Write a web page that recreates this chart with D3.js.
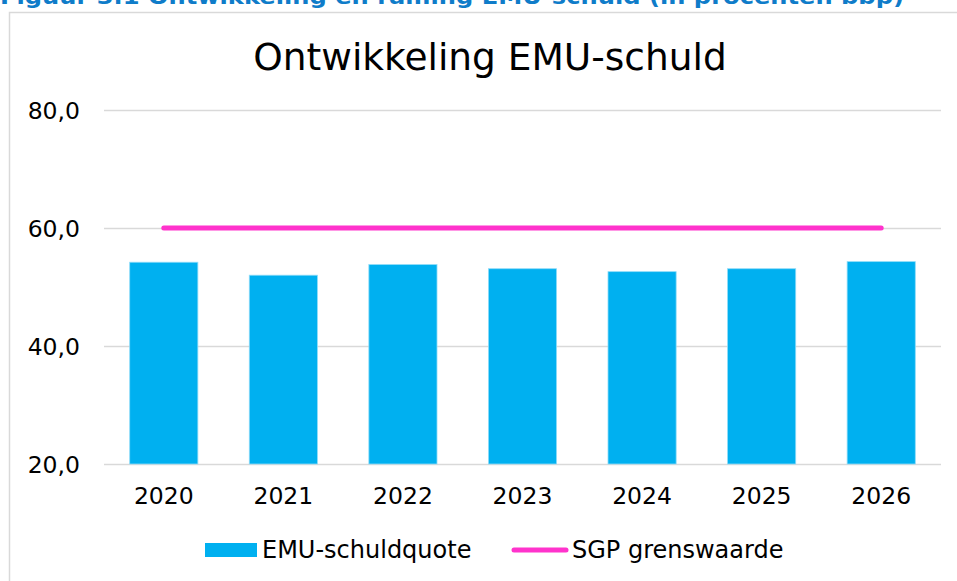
<!DOCTYPE html>
<html>
<head>
<meta charset="utf-8">
<script src="https://cdn.jsdelivr.net/npm/d3@7"></script>
<style>
    html, body { margin: 0; padding: 0; background: #fff; overflow: hidden; }
    #chart { width: 957px; height: 581px; }
    text { font-family: 'DejaVu Sans', Verdana, sans-serif; fill: #000; }
</style>
</head>
<body>
<div id="chart"></div>
<script>
const years = ['2020', '2021', '2022', '2023', '2024', '2025', '2026'];
const schuldquote = [54.2, 52.0, 53.8, 53.1, 52.6, 53.1, 54.3];
const grenswaarde = [60, 60, 60, 60, 60, 60, 60];
const yTicks = [20, 40, 60, 80];

const width = 957, height = 581;
const margin = { top: 110, right: 16, bottom: 117, left: 104 };
const innerW = width - margin.left - margin.right;
const innerH = height - margin.top - margin.bottom;

const svg = d3.select('#chart')
    .append('svg')
    .attr('width', width)
    .attr('height', height);

// outer frame (clipped by the picture)
svg.append('rect')
    .attr('x', 9.5)
    .attr('y', 12.5)
    .attr('width', 1000)
    .attr('height', 1000)
    .attr('fill', 'none')
    .attr('stroke', '#d9d9d9')
    .attr('stroke-width', 1.5);

// figure caption, cut off at the top as in the source
svg.append('text')
    .attr('x', 0)
    .attr('y', 4)
    .attr('textLength', 904)
    .attr('lengthAdjust', 'spacingAndGlyphs')
    .style('font-weight', 'bold')
    .style('font-size', '22px')
    .style('fill', '#0f7cc9')
    .text('Figuur 3.1 Ontwikkeling en raming EMU-schuld (in procenten bbp)');

svg.append('text')
    .attr('x', 490)
    .attr('y', 70)
    .attr('text-anchor', 'middle')
    .style('font-size', '37.5px')
    .text('Ontwikkeling EMU-schuld');

const g = svg.append('g')
    .attr('transform', `translate(${margin.left},${margin.top})`);

const x = d3.scaleBand()
    .domain(years)
    .range([0, innerW])
    .paddingInner(0.43)
    .paddingOuter(0.215);

const y = d3.scaleLinear()
    .domain([20, 80])
    .range([innerH, 0]);

g.append('g')
    .attr('class', 'grid')
    .call(d3.axisLeft(y)
        .tickValues(yTicks)
        .tickSize(-innerW)
        .tickFormat('')
    )
    .call(g => g.select('.domain').remove())
    .selectAll('line')
    .attr('stroke', '#d9d9d9')
    .attr('stroke-width', 1.5);

g.selectAll('.bar')
    .data(years)
    .enter()
    .append('rect')
    .attr('class', 'bar')
    .attr('x', d => x(d))
    .attr('y', (d, i) => y(schuldquote[i]))
    .attr('width', x.bandwidth())
    .attr('height', (d, i) => innerH - y(schuldquote[i]))
    .attr('fill', '#00b0f0')
    .attr('stroke', '#8fdcf8')
    .attr('stroke-width', 0.8);

const line = d3.line()
    .x((d, i) => x(years[i]) + x.bandwidth() / 2)
    .y(d => y(d));

g.append('path')
    .datum(grenswaarde)
    .attr('d', line)
    .attr('fill', 'none')
    .attr('stroke', '#ff33cc')
    .attr('stroke-width', 5)
    .attr('stroke-linecap', 'round');

const yAxis = g.append('g')
    .call(d3.axisLeft(y)
        .tickValues(yTicks)
        .tickSize(0)
        .tickPadding(24)
        .tickFormat(d => d3.format('.1f')(d).replace('.', ',')));
yAxis.select('.domain').remove();
yAxis.selectAll('text')
    .style('font-size', '23.5px')
    .attr('dy', '0.35em');

const xAxis = g.append('g')
    .attr('transform', `translate(0,${innerH})`)
    .call(d3.axisBottom(x).tickSize(0).tickPadding(23));
xAxis.select('.domain').remove();
xAxis.selectAll('text')
    .style('font-size', '23.5px');

// legend
const legend = svg.append('g').attr('transform', 'translate(0,550)');
legend.append('rect')
    .attr('x', 205)
    .attr('y', -7)
    .attr('width', 52)
    .attr('height', 14)
    .attr('fill', '#00b0f0');
legend.append('text')
    .attr('x', 262)
    .attr('y', 7.5)
    .style('font-size', '24px')
    .text('EMU-schuldquote');
legend.append('line')
    .attr('x1', 514)
    .attr('x2', 566)
    .attr('y1', 0)
    .attr('y2', 0)
    .attr('stroke', '#ff33cc')
    .attr('stroke-width', 5)
    .attr('stroke-linecap', 'round');
legend.append('text')
    .attr('x', 572)
    .attr('y', 7.5)
    .style('font-size', '24px')
    .text('SGP grenswaarde');
</script>
</body>
</html>
